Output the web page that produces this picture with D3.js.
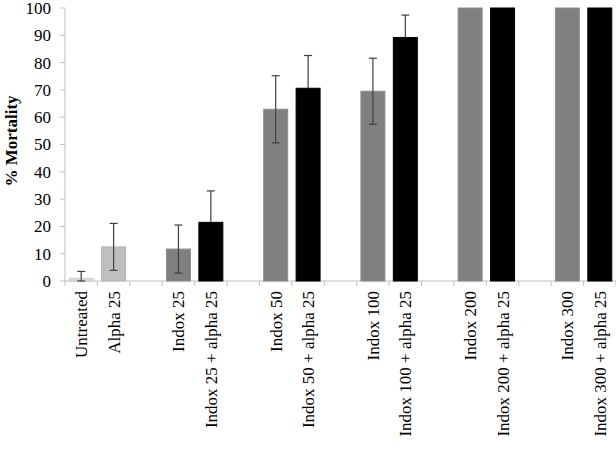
<!DOCTYPE html>
<html>
<head>
<script src="https://d3js.org/d3.v7.min.js"></script>
<style>
  body { margin: 0; background: #fff; }
  text { font-family: "Liberation Serif", "Times New Roman", serif; fill: #000; }
</style>
</head>
<body>
<script>
// slots, "" = gap between groups
var categories = ["Untreated", "Alpha 25", "", "Indox 25", "Indox 25 + alpha 25", "",
  "Indox 50", "Indox 50 + alpha 25", "", "Indox 100", "Indox 100 + alpha 25", "",
  "Indox 200", "Indox 200 + alpha 25", "", "Indox 300", "Indox 300 + alpha 25"];
var values = [1, 12.5, null, 11.7, 21.5, null, 62.9, 70.6, null, 69.5, 89.2, null, 100, 100, null, 100, 100];
var errors = [2.5, 8.6, null, 8.8, 11.5, null, 12.3, 12, null, 12.1, 8.2, null, 0, 0, null, 0, 0];
var kinds = ["control", "alpha", null, "indox", "combo", null, "indox", "combo", null,
  "indox", "combo", null, "indox", "combo", null, "indox", "combo"];
var yTicks = [0, 10, 20, 30, 40, 50, 60, 70, 80, 90, 100];

var width = 616, height = 450;
var margin = { left: 65, right: 0, top: 8, bottom: 169 };

var colors = { control: "#d9d9d9", alpha: "#bfbfbf", indox: "#808080", combo: "#000000" };
var strokes = { control: "#cfcfcf", alpha: "#b5b5b5", indox: "#8c8c8c", combo: "#000000" };

var svg = d3.select("body").append("svg")
  .attr("width", width).attr("height", height);

var x = d3.scaleBand()
  .domain(d3.range(categories.length))
  .range([margin.left, width - margin.right])
  .paddingInner(0.26).paddingOuter(0.13);

var y = d3.scaleLinear().domain([0, 100]).range([height - margin.bottom, margin.top]);

var step = x.step();
var x0 = margin.left;

// axes
var axisColor = "#bfbfbf";
svg.append("line")
  .attr("x1", x0).attr("x2", x0)
  .attr("y1", y(100)).attr("y2", y(0))
  .attr("stroke", axisColor).attr("stroke-width", 1);
svg.append("line")
  .attr("x1", x0).attr("x2", width)
  .attr("y1", y(0)).attr("y2", y(0))
  .attr("stroke", axisColor).attr("stroke-width", 1);

svg.selectAll(".ytick").data(yTicks).enter().append("line")
  .attr("x1", x0 - 5).attr("x2", x0)
  .attr("y1", function(d) { return y(d); })
  .attr("y2", function(d) { return y(d); })
  .attr("stroke", axisColor);

svg.selectAll(".ylab").data(yTicks).enter().append("text")
  .attr("x", x0 - 14)
  .attr("y", function(d) { return y(d); })
  .attr("dy", "0.35em")
  .attr("text-anchor", "end")
  .style("font-size", "17px")
  .text(function(d) { return d; });

svg.selectAll(".xtick").data(d3.range(categories.length + 1)).enter().append("line")
  .attr("x1", function(i) { return x0 + i * step; })
  .attr("x2", function(i) { return x0 + i * step; })
  .attr("y1", y(0)).attr("y2", y(0) + 5)
  .attr("stroke", axisColor);

// bars
var idx = d3.range(categories.length).filter(function(i) { return values[i] != null; });

svg.selectAll(".bar").data(idx).enter().append("rect")
  .attr("x", function(i) { return x(i); })
  .attr("width", x.bandwidth())
  .attr("y", function(i) { return y(values[i]); })
  .attr("height", function(i) { return y(0) - y(values[i]); })
  .attr("fill", function(i) { return colors[kinds[i]]; })
  .attr("stroke", function(i) { return strokes[kinds[i]]; })
  .attr("stroke-width", 1);

// error bars
var eb = idx.filter(function(i) { return errors[i] > 0; });
var cap = 4;
var g = svg.append("g").attr("stroke-width", 1.2);
eb.forEach(function(i) {
  var cx = x(i) + x.bandwidth() / 2;
  var lo = Math.max(0, values[i] - errors[i]), hi = values[i] + errors[i];
  var c = kinds[i] === "combo" ? "#000" : "#404040";
  g.append("line").attr("stroke", "#404040").attr("x1", cx).attr("x2", cx).attr("y1", y(values[i])).attr("y2", y(hi));
  g.append("line").attr("stroke", c).attr("x1", cx).attr("x2", cx).attr("y1", y(lo)).attr("y2", y(values[i]));
  g.append("line").attr("stroke", "#404040").attr("x1", cx - cap).attr("x2", cx + cap).attr("y1", y(hi)).attr("y2", y(hi));
  g.append("line").attr("stroke", c).attr("x1", cx - cap).attr("x2", cx + cap).attr("y1", y(lo)).attr("y2", y(lo));
});

// category labels
svg.selectAll(".xlab").data(idx).enter().append("text")
  .attr("transform", function(i) {
    return "translate(" + (x(i) + x.bandwidth() / 2) + "," + (y(0) + 10) + ") rotate(-90)";
  })
  .attr("dy", "0.35em")
  .attr("text-anchor", "end")
  .style("font-size", "17px")
  .text(function(i) { return categories[i]; });

// y title
svg.append("text")
  .attr("transform", "translate(11,141) rotate(-90)")
  .attr("dy", "0.35em")
  .attr("text-anchor", "middle")
  .style("font-size", "17px")
  .style("font-weight", "bold")
  .text("% Mortality");
</script>
</body>
</html>
